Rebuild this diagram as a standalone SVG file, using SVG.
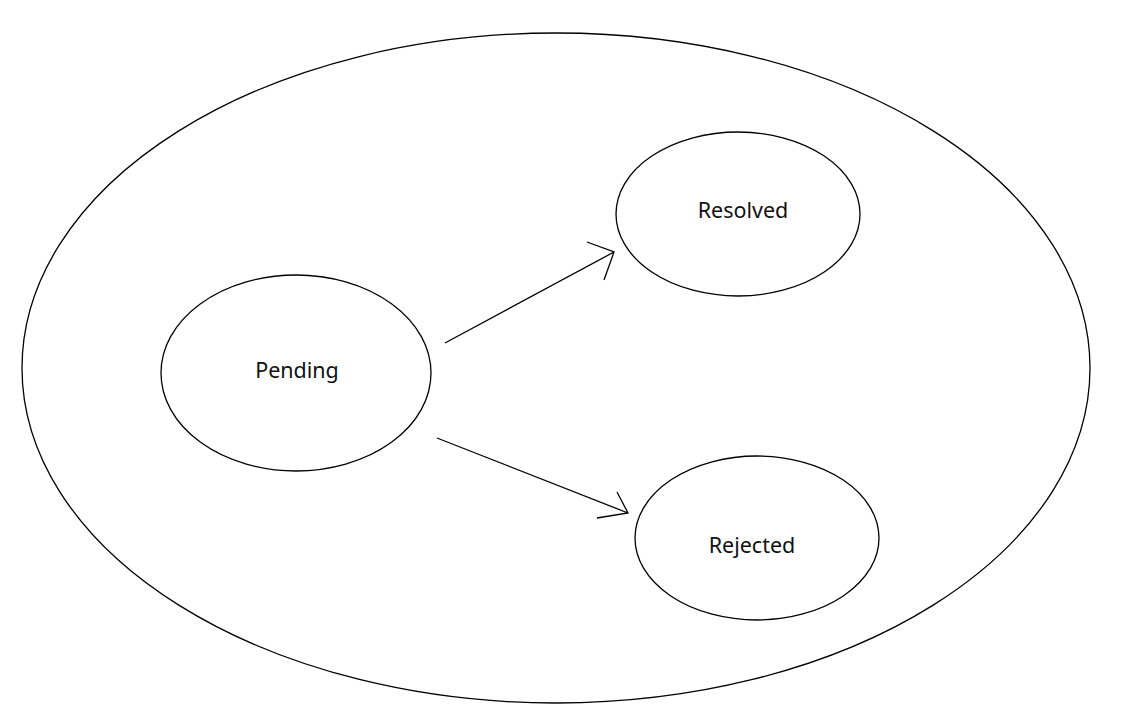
<svg xmlns="http://www.w3.org/2000/svg" width="1132" height="718" viewBox="0 0 1132 718">
<style>
.n{fill:none;stroke:#000;stroke-width:1.3}
.t{font-family:"Noto Sans","Liberation Sans",sans-serif;font-size:21.5px;fill:#111;text-anchor:middle}
.c{fill:none;stroke:#000;stroke-width:1.3}
</style>
<rect width="1132" height="718" fill="#fff"/>
<g id="outer"><ellipse class="n" cx="556" cy="368" rx="534" ry="335"/></g>
<g id="pending"><ellipse class="n" cx="296" cy="373" rx="135" ry="98"/><text class="t" x="297" y="378">Pending</text></g>
<g id="resolved"><ellipse class="n" cx="738" cy="214" rx="122" ry="82"/><text class="t" x="743" y="218">Resolved</text></g>
<g id="rejected"><ellipse class="n" cx="757" cy="538" rx="122" ry="82"/><text class="t" x="752" y="553">Rejected</text></g>
<g id="connectors">
<path class="c" d="M445 343 L614 252 M587 242 L614 252 L604 280"/>
<path class="c" d="M437 438 L628 513 M617 492 L628 513 L597 518"/>
</g>
</svg>
